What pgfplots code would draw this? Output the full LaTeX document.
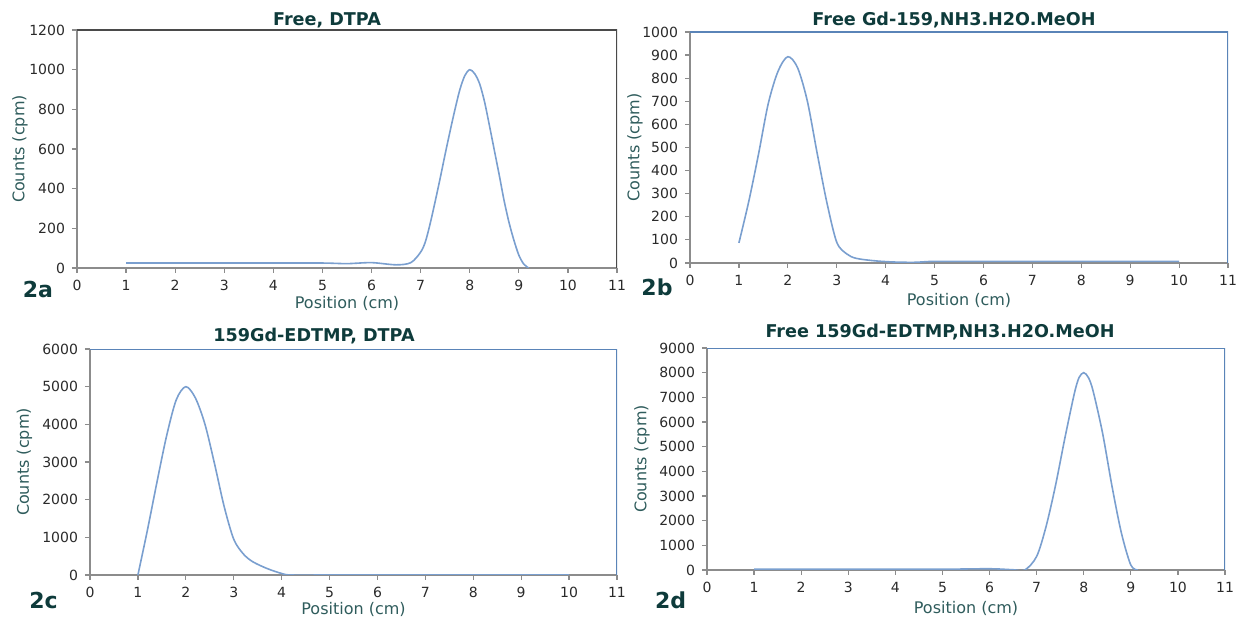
\documentclass[border=0pt]{standalone}
\usepackage{fontspec}
\setmainfont{DejaVu Sans}
\usepackage{pgfplots}
\pgfplotsset{compat=1.18}

\definecolor{curvecol}{HTML}{7A9FCF}
\definecolor{frameblue}{HTML}{5A84B8}
\definecolor{framedark}{HTML}{4A4A4A}
\definecolor{axisgray}{HTML}{8C8C8C}
\definecolor{titlecol}{HTML}{0E3B3B}
\definecolor{labelcol}{HTML}{2F5C5C}
\definecolor{tickcol}{HTML}{2A2A2A}

\pgfplotsset{
  panel/.style={
    scale only axis,
    axis lines=left,
    axis line style={-, draw=axisgray, line width=0.7pt},
    xmin=0, xmax=11, xtick={0,...,11},
    ymin=0,
    tick align=outside,
    major tick length=2.5pt,
    tick style={axisgray, line width=0.6pt},
    scaled y ticks=false,
    /pgf/number format/1000 sep={},
    /pgf/number format/assume math mode=true,
    ticklabel style={font=\fontsize{7}{8}\selectfont, text=tickcol},
    xlabel={Position (cm)},
    ylabel={Counts (cpm)},
    every axis x label/.style={at={(axis description cs:0.5,0)}, anchor=center,
      font=\fontsize{8}{9}\selectfont, text=labelcol},
    every axis y label/.style={at={(axis description cs:0,0.5)}, anchor=center, rotate=90,
      font=\fontsize{8}{9}\selectfont, text=labelcol},
  },
  tlc/.style={draw=curvecol, line width=0.8pt, smooth, mark=none},
}

\newcommand{\panelframe}[1]{\draw[#1, line width=0.8pt] (rel axis cs:0,1) -- (rel axis cs:1,1) -- (rel axis cs:1,0);}

\begin{document}
\begin{tikzpicture}
\useasboundingbox (0,0) rectangle (624.5pt,310pt);

% 2a
\begin{axis}[panel, at={(38.5pt,176pt)}, anchor=south west,
  width=270pt, height=119pt,
  ymax=1200, ytick={0,200,...,1200},
  xlabel style={yshift=-17.5pt}, ylabel style={yshift=28.5pt}]
\panelframe{framedark}
\addplot[tlc] coordinates {
  (1,25) (2,25) (3,25) (4,25) (5,25) (5.5,22) (6,27) (6.5,16) (6.8,27)
  (7.0,80) (7.1,135) (7.2,230) (7.3,340) (7.4,455) (7.5,575) (7.6,690)
  (7.7,800) (7.8,900) (7.9,970) (8.0,1000) (8.1,980) (8.2,930) (8.3,840)
  (8.4,720) (8.5,595) (8.6,470) (8.7,340) (8.8,230) (8.9,140) (9.0,65)
  (9.1,20) (9.2,0)
};
\end{axis}

% 2b
\begin{axis}[panel, at={(345pt,178.5pt)}, anchor=south west,
  width=269pt, height=115.5pt,
  ymax=1000, ytick={0,100,...,1000},
  xlabel style={yshift=-18.5pt}, ylabel style={yshift=27.5pt}]
\panelframe{frameblue}
\addplot[tlc] coordinates {
  (1,87) (1.2,265) (1.4,470) (1.6,690) (1.8,830) (2.0,893) (2.2,845)
  (2.4,700) (2.6,475) (2.8,260) (3.0,90) (3.2,40) (3.4,20) (3.8,9)
  (4.2,4) (4.6,3) (5,7) (6,7) (7,7) (8,7) (9,7) (10,7)
};
\end{axis}

% 2c
\begin{axis}[panel, at={(45pt,22.5pt)}, anchor=south west,
  width=263.5pt, height=113pt,
  ymax=6000, ytick={0,1000,...,6000},
  xlabel style={yshift=-17pt}, ylabel style={yshift=32.75pt}]
\panelframe{frameblue}
\addplot[tlc] coordinates {
  (1,0) (1.2,1200) (1.4,2480) (1.6,3700) (1.8,4650) (2.0,5000) (2.2,4700)
  (2.4,4000) (2.6,2950) (2.8,1820) (3.0,950) (3.2,560) (3.4,350)
  (3.7,170) (4.0,40) (4.2,0) (5,0) (6,0) (7,0) (8,0) (9,0) (10,0)
};
\end{axis}

% 2d
\begin{axis}[panel, at={(353.5pt,25pt)}, anchor=south west,
  width=259pt, height=111pt,
  ymax=9000, ytick={0,1000,...,9000},
  xlabel style={yshift=-19pt}, ylabel style={yshift=32.5pt}]
\panelframe{frameblue}
\addplot[tlc] coordinates {
  (1,30) (2,30) (3,30) (4,30) (5,30) (6,50) (6.5,10) (6.75,0)
  (7.0,550) (7.2,1760) (7.4,3420) (7.6,5350) (7.8,7150) (7.9,7800) (8.0,8000)
  (8.1,7800) (8.2,7250) (8.4,5550) (8.6,3400) (8.8,1500) (9.0,200) (9.15,0)
};
\end{axis}

% titles and panel tags
\begin{scope}[font=\fontsize{8.8}{10}\selectfont\bfseries, text=titlecol]
\node at (163.5pt,300pt) {Free, DTPA};
\node at (477pt,300pt) {Free Gd-159,NH3.H2O.MeOH};
\node at (157pt,142pt) {159Gd-EDTMP, DTPA};
\node at (470pt,144pt) {Free 159Gd-EDTMP,NH3.H2O.MeOH};
\end{scope}
\begin{scope}[font=\fontsize{11}{12}\selectfont\bfseries, text=titlecol]
\node at (19pt,165pt) {2a};
\node at (328.5pt,166.5pt) {2b};
\node at (21.75pt,10pt) {2c};
\node at (335.3pt,10pt) {2d};
\end{scope}
\end{tikzpicture}
\end{document}
